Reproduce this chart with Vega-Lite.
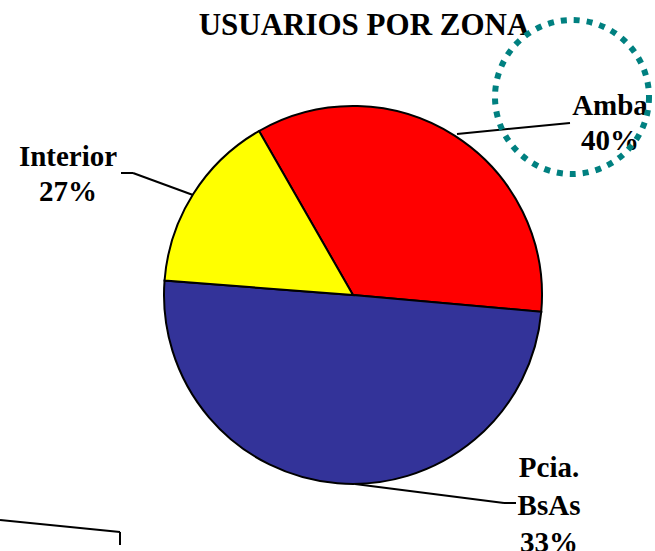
{
  "$schema": "https://vega.github.io/schema/vega-lite/v6.json",
  "width": 655,
  "height": 551,
  "autosize": "none",
  "padding": 0,
  "background": "white",
  "config": {"view": {"stroke": null}},
  "layer": [
    {
      "data": {"values": [
        {"zona": "Amba", "usuarios": 34.7, "orden": 1},
        {"zona": "Pcia. BsAs", "usuarios": 49.8, "orden": 2},
        {"zona": "Interior", "usuarios": 15.5, "orden": 3}
      ]},
      "mark": {"type": "arc", "outerRadius": 189, "stroke": "black", "strokeWidth": 2},
      "encoding": {
        "theta": {"field": "usuarios", "type": "quantitative", "stack": true, "scale": {"range": [5.763, 12.046]}},
        "order": {"field": "orden"},
        "color": {"field": "zona", "type": "nominal", "scale": {"domain": ["Amba", "Pcia. BsAs", "Interior"], "range": ["#FF0000", "#333399", "#FFFF00"]}, "legend": null},
        "x": {"datum": 353, "type": "quantitative", "scale": {"domain": [0, 655], "nice": false, "zero": false}, "axis": null},
        "y": {"datum": 295, "type": "quantitative", "scale": {"domain": [0, 551], "nice": false, "zero": false, "reverse": true}, "axis": null}
      }
    },
    {
      "data": {"values": [{}]},
      "mark": {"type": "text", "font": "Liberation Serif", "fontWeight": "bold", "fontSize": 31, "align": "center", "baseline": "alphabetic", "color": "black"},
      "encoding": {
        "text": {"value": "USUARIOS POR ZONA"},
        "x": {"datum": 364, "type": "quantitative", "scale": {"domain": [0, 655], "nice": false, "zero": false}, "axis": null},
        "y": {"datum": 35, "type": "quantitative", "scale": {"domain": [0, 551], "nice": false, "zero": false, "reverse": true}, "axis": null}
      }
    },
    {
      "data": {"values": [{}]},
      "mark": {"type": "text", "font": "Liberation Serif", "fontWeight": "bold", "fontSize": 29, "align": "center", "baseline": "alphabetic", "lineHeight": 35, "color": "black"},
      "encoding": {
        "text": {"value": ["Amba", "40%"]},
        "x": {"datum": 610, "type": "quantitative", "scale": {"domain": [0, 655], "nice": false, "zero": false}, "axis": null},
        "y": {"datum": 115, "type": "quantitative", "scale": {"domain": [0, 551], "nice": false, "zero": false, "reverse": true}, "axis": null}
      }
    },
    {
      "data": {"values": [{}]},
      "mark": {"type": "text", "font": "Liberation Serif", "fontWeight": "bold", "fontSize": 29, "align": "center", "baseline": "alphabetic", "lineHeight": 35, "color": "black"},
      "encoding": {
        "text": {"value": ["Interior", "27%"]},
        "x": {"datum": 68, "type": "quantitative", "scale": {"domain": [0, 655], "nice": false, "zero": false}, "axis": null},
        "y": {"datum": 166, "type": "quantitative", "scale": {"domain": [0, 551], "nice": false, "zero": false, "reverse": true}, "axis": null}
      }
    },
    {
      "data": {"values": [{}]},
      "mark": {"type": "text", "font": "Liberation Serif", "fontWeight": "bold", "fontSize": 29, "align": "center", "baseline": "alphabetic", "lineHeight": 37.5, "color": "black"},
      "encoding": {
        "text": {"value": ["Pcia.", "BsAs", "33%"]},
        "x": {"datum": 549, "type": "quantitative", "scale": {"domain": [0, 655], "nice": false, "zero": false}, "axis": null},
        "y": {"datum": 477, "type": "quantitative", "scale": {"domain": [0, 551], "nice": false, "zero": false, "reverse": true}, "axis": null}
      }
    },
    {
      "data": {"values": [{}]},
      "mark": {"type": "rule", "color": "black", "strokeWidth": 2},
      "encoding": {
        "x": {"datum": 457, "type": "quantitative", "scale": {"domain": [0, 655], "nice": false, "zero": false}, "axis": null},
        "y": {"datum": 134, "type": "quantitative", "scale": {"domain": [0, 551], "nice": false, "zero": false, "reverse": true}, "axis": null},
        "x2": {"datum": 570},
        "y2": {"datum": 123}
      }
    },
    {
      "data": {"values": [{}]},
      "mark": {"type": "rule", "color": "black", "strokeWidth": 2},
      "encoding": {
        "x": {"datum": 121, "type": "quantitative", "scale": {"domain": [0, 655], "nice": false, "zero": false}, "axis": null},
        "y": {"datum": 173, "type": "quantitative", "scale": {"domain": [0, 551], "nice": false, "zero": false, "reverse": true}, "axis": null},
        "x2": {"datum": 133},
        "y2": {"datum": 173}
      }
    },
    {
      "data": {"values": [{}]},
      "mark": {"type": "rule", "color": "black", "strokeWidth": 2},
      "encoding": {
        "x": {"datum": 133, "type": "quantitative", "scale": {"domain": [0, 655], "nice": false, "zero": false}, "axis": null},
        "y": {"datum": 173, "type": "quantitative", "scale": {"domain": [0, 551], "nice": false, "zero": false, "reverse": true}, "axis": null},
        "x2": {"datum": 193},
        "y2": {"datum": 195}
      }
    },
    {
      "data": {"values": [{}]},
      "mark": {"type": "rule", "color": "black", "strokeWidth": 2},
      "encoding": {
        "x": {"datum": 355, "type": "quantitative", "scale": {"domain": [0, 655], "nice": false, "zero": false}, "axis": null},
        "y": {"datum": 484, "type": "quantitative", "scale": {"domain": [0, 551], "nice": false, "zero": false, "reverse": true}, "axis": null},
        "x2": {"datum": 504},
        "y2": {"datum": 503}
      }
    },
    {
      "data": {"values": [{}]},
      "mark": {"type": "rule", "color": "black", "strokeWidth": 2},
      "encoding": {
        "x": {"datum": 504, "type": "quantitative", "scale": {"domain": [0, 655], "nice": false, "zero": false}, "axis": null},
        "y": {"datum": 503, "type": "quantitative", "scale": {"domain": [0, 551], "nice": false, "zero": false, "reverse": true}, "axis": null},
        "x2": {"datum": 516},
        "y2": {"datum": 503}
      }
    },
    {
      "data": {"values": [{}]},
      "mark": {"type": "rule", "color": "black", "strokeWidth": 2},
      "encoding": {
        "x": {"datum": 0, "type": "quantitative", "scale": {"domain": [0, 655], "nice": false, "zero": false}, "axis": null},
        "y": {"datum": 520, "type": "quantitative", "scale": {"domain": [0, 551], "nice": false, "zero": false, "reverse": true}, "axis": null},
        "x2": {"datum": 120},
        "y2": {"datum": 532}
      }
    },
    {
      "data": {"values": [{}]},
      "mark": {"type": "rule", "color": "black", "strokeWidth": 2},
      "encoding": {
        "x": {"datum": 120, "type": "quantitative", "scale": {"domain": [0, 655], "nice": false, "zero": false}, "axis": null},
        "y": {"datum": 532, "type": "quantitative", "scale": {"domain": [0, 551], "nice": false, "zero": false, "reverse": true}, "axis": null},
        "x2": {"datum": 120},
        "y2": {"datum": 545}
      }
    },
    {
      "data": {"values": [{}]},
      "mark": {"type": "point", "shape": "circle", "size": 23716, "filled": false, "stroke": "#008080", "strokeWidth": 6, "strokeDash": [6, 7], "opacity": 1},
      "encoding": {
        "x": {"datum": 572, "type": "quantitative", "scale": {"domain": [0, 655], "nice": false, "zero": false}, "axis": null},
        "y": {"datum": 97, "type": "quantitative", "scale": {"domain": [0, 551], "nice": false, "zero": false, "reverse": true}, "axis": null}
      }
    }
  ]
}
